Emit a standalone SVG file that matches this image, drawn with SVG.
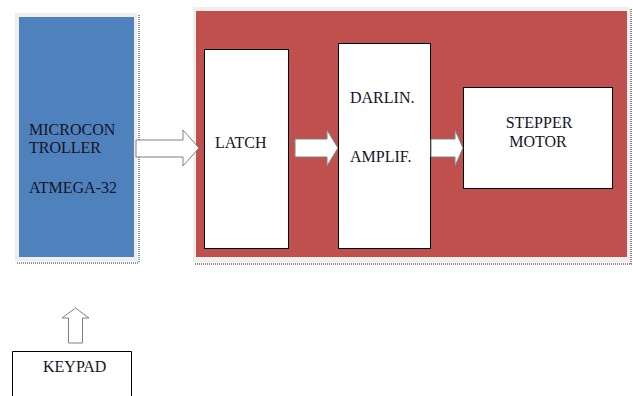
<svg xmlns="http://www.w3.org/2000/svg" width="633" height="396" viewBox="0 0 633 396">
<style>
.t{font-family:"Liberation Serif","Times New Roman",serif;font-size:16px;fill:#141428}
.box{fill:#fff;stroke:#000;stroke-width:1}
.arr{fill:#fff;stroke:#808080;stroke-width:1}
.sh{fill:none;stroke-width:2;stroke-dasharray:1 1}
</style>
<rect width="633" height="396" fill="#fff"/>
<g id="microcontroller">
<line class="sh" x1="139" y1="15" x2="139" y2="263" stroke="#8a93a3"/>
<line class="sh" x1="17" y1="263" x2="139" y2="263" stroke="#8a93a3"/>
<rect x="15" y="13" width="122" height="248" fill="#eeeeee"/>
<rect x="19" y="17" width="115" height="240" fill="#4F81BD"/>
<text class="t" x="29" y="135">MICROCON</text>
<text class="t" x="29" y="153">TROLLER</text>
<text class="t" x="29" y="193">ATMEGA-32</text>
</g>
<g id="driver">
<line class="sh" x1="631" y1="9" x2="631" y2="264" stroke="#a08080"/>
<line class="sh" x1="195" y1="264" x2="632" y2="264" stroke="#a08080"/>
<rect x="193" y="7" width="437" height="255" fill="#eeeeee"/>
<rect x="196" y="11" width="431" height="246" fill="#C0504D"/>
</g>
<g id="latch">
<rect class="box" x="204.5" y="49.5" width="84" height="199"/>
<text class="t" x="215" y="148">LATCH</text>
</g>
<g id="darlington">
<rect class="box" x="338.5" y="43.5" width="92" height="205"/>
<text class="t" x="350" y="103">DARLIN.</text>
<text class="t" x="350" y="162">AMPLIF.</text>
</g>
<g id="stepper">
<rect class="box" x="463.5" y="87.5" width="149" height="101"/>
<text class="t" x="539" y="128" text-anchor="middle">STEPPER</text>
<text class="t" x="538" y="147" text-anchor="middle">MOTOR</text>
</g>
<g id="keypad">
<path d="M12.5,396 V351.5 H131.5 V396" fill="#fff" stroke="#000" stroke-width="1"/>
<text class="t" x="43" y="372">KEYPAD</text>
</g>
<g id="connectors">
<polygon class="arr" points="136,140 183,140 183,130 199,148 183,166 183,157 136,157"/>
<polygon class="arr" points="295,139 327,139 327,130 338,148 327,166 327,157 295,157"/>
<polygon class="arr" points="431,139 455,139 455,130 463,148 455,166 455,157 431,157"/>
<polygon class="arr" points="68.5,343 68.5,318 62,318 75.5,308 89,318 82.5,318 82.5,343"/>
</g>
</svg>
